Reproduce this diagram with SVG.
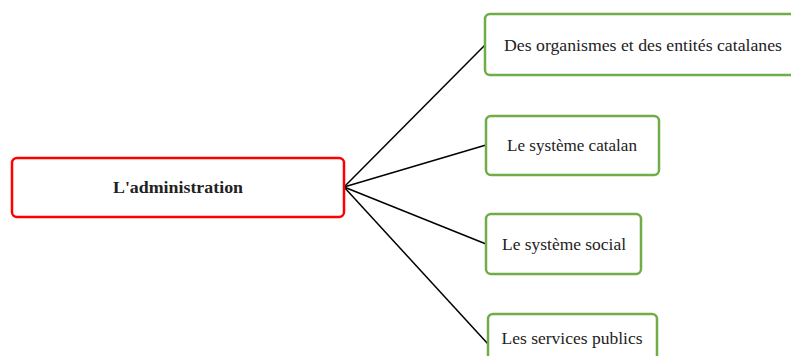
<svg xmlns="http://www.w3.org/2000/svg" width="791" height="356" viewBox="0 0 791 356">
<style>
.root{fill:#fff;stroke:#ff0000;stroke-width:2.5}
.leaf{fill:#fff;stroke:#70ad47;stroke-width:2.5}
.t{font-family:"Liberation Serif",serif;font-size:17px;fill:#222;text-anchor:middle;dominant-baseline:central}
.b{font-weight:bold}
.c{stroke:#000;stroke-width:1.5;fill:none}
</style>
<rect width="791" height="356" fill="#fff"/>
<g id="connectors">
<line class="c" x1="344" y1="187" x2="485" y2="45"/>
<line class="c" x1="344" y1="187" x2="486" y2="145"/>
<line class="c" x1="344" y1="187" x2="486" y2="244"/>
<line class="c" x1="344" y1="187" x2="488" y2="344"/>
</g>
<g id="root">
<rect class="root" x="12" y="158" width="332" height="59" rx="5"/>
<text class="t b" x="178" y="187" textLength="130" lengthAdjust="spacingAndGlyphs">L'administration</text>
</g>
<g id="n1">
<rect class="leaf" x="485" y="14" width="312" height="61" rx="5"/>
<text class="t" x="643" y="45" textLength="278" lengthAdjust="spacingAndGlyphs">Des organismes et des entités catalanes</text>
</g>
<g id="n2">
<rect class="leaf" x="486" y="116" width="173" height="59" rx="5"/>
<text class="t" x="572" y="145" textLength="130" lengthAdjust="spacingAndGlyphs">Le système catalan</text>
</g>
<g id="n3">
<rect class="leaf" x="486" y="214" width="155" height="60" rx="5"/>
<text class="t" x="564" y="244" textLength="124" lengthAdjust="spacingAndGlyphs">Le système social</text>
</g>
<g id="n4">
<rect class="leaf" x="488" y="314" width="169" height="60" rx="5"/>
<text class="t" x="572" y="338" textLength="141" lengthAdjust="spacingAndGlyphs">Les services publics</text>
</g>
</svg>
